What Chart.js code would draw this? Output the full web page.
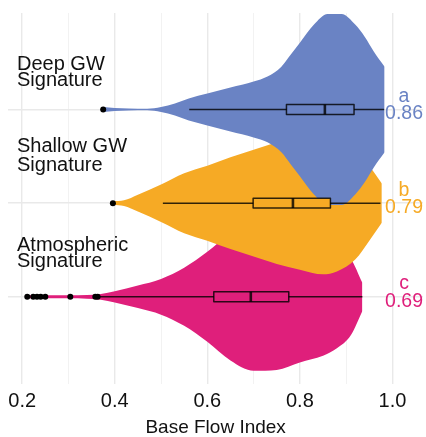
<!DOCTYPE html>
<html>
<head>
<meta charset="utf-8">
<script src="https://cdn.jsdelivr.net/npm/chart.js@4.4.1/dist/chart.umd.min.js"></script>
<style>
  html, body { margin: 0; padding: 0; background: #fff; }
  #wrap { width: 426px; height: 437px; }
</style>
</head>
<body>
<div id="wrap"><canvas id="bfiChart"></canvas></div>
<script>
// groups, from top to bottom
var groups = [['Deep GW', 'Signature'], ['Shallow GW', 'Signature'], ['Atmospheric', 'Signature']];
var groupRows = [3, 2, 1];
var groupLetters = ['a', 'b', 'c'];
var medianLabels = ['0.86', '0.79', '0.69'];

// violin outlines: BFI position and half width (in row units)
var deepBfi = [0.375, 0.40, 0.43, 0.47, 0.50, 0.53, 0.56, 0.60, 0.65, 0.70, 0.73, 0.76, 0.78, 0.80, 0.83, 0.86, 0.89, 0.92, 0.94, 0.96, 0.983];
var deepHalf = [0.027, 0.016, 0.011, 0.009, 0.027, 0.064, 0.117, 0.17, 0.234, 0.298, 0.351, 0.457, 0.585, 0.713, 0.904, 1.02, 1.02, 0.904, 0.777, 0.617, 0.457];

var shallowBfi = [0.396, 0.42, 0.45, 0.50, 0.55, 0.60, 0.65, 0.70, 0.75, 0.80, 0.85, 0.88, 0.92, 0.95, 0.977];
var shallowHalf = [0.02, 0.03, 0.09, 0.2, 0.32, 0.4, 0.49, 0.57, 0.65, 0.71, 0.76, 0.73, 0.6, 0.4, 0.21];

var atmBfi = [0.211, 0.25, 0.30, 0.34, 0.37, 0.40, 0.45, 0.50, 0.55, 0.60, 0.65, 0.70, 0.75, 0.80, 0.85, 0.88, 0.91, 0.935];
var atmHalf = [0.016, 0.016, 0.016, 0.02, 0.03, 0.06, 0.12, 0.19, 0.31, 0.48, 0.68, 0.79, 0.78, 0.7, 0.63, 0.55, 0.41, 0.15];

// box plot stats (Deep, Shallow, Atmospheric)
var whiskerLow = [0.561, 0.504, 0.368];
var q1 = [0.771, 0.699, 0.614];
var medians = [0.854, 0.785, 0.694];
var q3 = [0.917, 0.866, 0.776];
var whiskerHigh = [0.982, 0.974, 0.935];
var outliers = [[0.375], [0.396], [0.211, 0.224, 0.232, 0.24, 0.25, 0.304, 0.358, 0.363]];

var xTicks = [0.2, 0.3, 0.4, 0.5, 0.6, 0.7, 0.8, 0.9, 1.0];

var colors = ['#6a83c4', '#f6aa25', '#df1f7b'];
var violinSets = [[deepBfi, deepHalf], [shallowBfi, shallowHalf], [atmBfi, atmHalf]];
var boxHalf = 0.053;
var lineCol = 'rgba(0,0,0,0.8)';
var fontFamily = '"Liberation Sans", Arial, sans-serif';

Chart.defaults.font.family = fontFamily;

function line(points, opts) {
    var ds = {
        data: points,
        borderWidth: 0,
        pointRadius: 0,
        pointHoverRadius: 0,
        fill: false
    };
    for (var k in opts) ds[k] = opts[k];
    return ds;
}

var datasets = [];

// outliers on top
outliers.forEach(function (list, i) {
    datasets.push({
        data: list.map(function (v) { return { x: v, y: groupRows[i] }; }),
        showLine: false,
        pointRadius: 3,
        pointHoverRadius: 3,
        pointBorderWidth: 0,
        pointBackgroundColor: '#000'
    });
});

// boxes, whiskers and medians
for (var i = 0; i < 3; i++) {
    var r = groupRows[i];
    datasets.push(line([{ x: medians[i], y: r - boxHalf }, { x: medians[i], y: r + boxHalf }],
        { borderWidth: 2.6, borderColor: lineCol }));
    datasets.push(line([
        { x: q1[i], y: r - boxHalf }, { x: q3[i], y: r - boxHalf },
        { x: q3[i], y: r + boxHalf }, { x: q1[i], y: r + boxHalf },
        { x: q1[i], y: r - boxHalf }
    ], { borderWidth: 1.5, borderColor: lineCol, borderJoinStyle: 'round' }));
    datasets.push(line([{ x: q1[i], y: r + boxHalf }, { x: q3[i], y: r + boxHalf }],
        { fill: { value: r - boxHalf }, backgroundColor: colors[i] }));
    datasets.push(line([{ x: whiskerLow[i], y: r }, { x: whiskerHigh[i], y: r }],
        { borderWidth: 1.5, borderColor: lineCol }));
}

// violins, Deep drawn last (on top)
violinSets.forEach(function (v, i) {
    var r = groupRows[i];
    var upper = v[0].map(function (b, j) { return { x: b, y: r + v[1][j] }; });
    var lower = v[0].map(function (b, j) { return { x: b, y: r - v[1][j] }; });
    datasets.push(line(upper, { cubicInterpolationMode: 'monotone' }));
    datasets.push(line(lower, { cubicInterpolationMode: 'monotone', fill: '-1', backgroundColor: colors[i] }));
});

var textPlugin = {
    id: 'groupText',
    afterDraw: function (chart) {
        var ctx = chart.ctx;
        var xs = chart.scales.x, ys = chart.scales.y;
        var nameOffsets = [[-39, -23], [-51, -32], [-46, -30]];
        ctx.save();
        ctx.textBaseline = 'alphabetic';
        ctx.font = '20px ' + fontFamily;
        ctx.fillStyle = '#111';
        ctx.textAlign = 'left';
        groups.forEach(function (g, i) {
            var py = ys.getPixelForValue(groupRows[i]);
            ctx.fillText(g[0], 17, py + nameOffsets[i][0]);
            ctx.fillText(g[1], 17, py + nameOffsets[i][1]);
        });
        ctx.textAlign = 'center';
        ctx.font = '19.5px ' + fontFamily;
        var px = xs.getPixelForValue(1.025);
        groupLetters.forEach(function (l, i) {
            var py = ys.getPixelForValue(groupRows[i]);
            ctx.fillStyle = colors[i];
            ctx.fillText(l, px, py - 7.5);
            ctx.fillText(medianLabels[i], px, py + 10);
        });
        ctx.restore();
    }
};

new Chart(document.getElementById('bfiChart'), {
    type: 'line',
    data: { datasets: datasets },
    options: {
        responsive: true,
        maintainAspectRatio: false,
        animation: false,
        events: [],
        layout: { padding: { left: 8, right: 0, top: 13, bottom: 0 } },
        plugins: { legend: { display: false }, tooltip: { enabled: false } },
        scales: {
            x: {
                type: 'linear',
                min: 0.17,
                max: 1.066,
                afterBuildTicks: function (axis) {
                    axis.ticks = xTicks.map(function (v) { return { value: v }; });
                },
                border: { display: false },
                grid: {
                    drawTicks: false,
                    color: function (c) {
                        return Math.round(c.tick.value * 10) % 2 === 0 ? '#e9e9e9' : '#f2f2f2';
                    },
                    lineWidth: function (c) {
                        return Math.round(c.tick.value * 10) % 2 === 0 ? 1.4 : 1;
                    }
                },
                ticks: {
                    autoSkip: false,
                    maxRotation: 0,
                    padding: 8,
                    color: '#111',
                    font: { size: 20, lineHeight: 0.95 },
                    callback: function (v) {
                        return Math.round(v * 10) % 2 === 0 ? v.toFixed(1) : '';
                    }
                },
                title: {
                    display: true,
                    text: 'Base Flow Index',
                    color: '#111',
                    font: { size: 19, lineHeight: 0.95 },
                    padding: { top: 0, bottom: 0 }
                }
            },
            y: {
                type: 'linear',
                min: 0.07,
                max: 4.03,
                afterBuildTicks: function (axis) {
                    axis.ticks = groupRows.map(function (v) { return { value: v }; });
                },
                border: { display: false },
                grid: { drawTicks: false, color: '#e9e9e9', lineWidth: 1.4 },
                ticks: { display: false }
            }
        }
    },
    plugins: [textPlugin]
});
</script>
</body>
</html>
